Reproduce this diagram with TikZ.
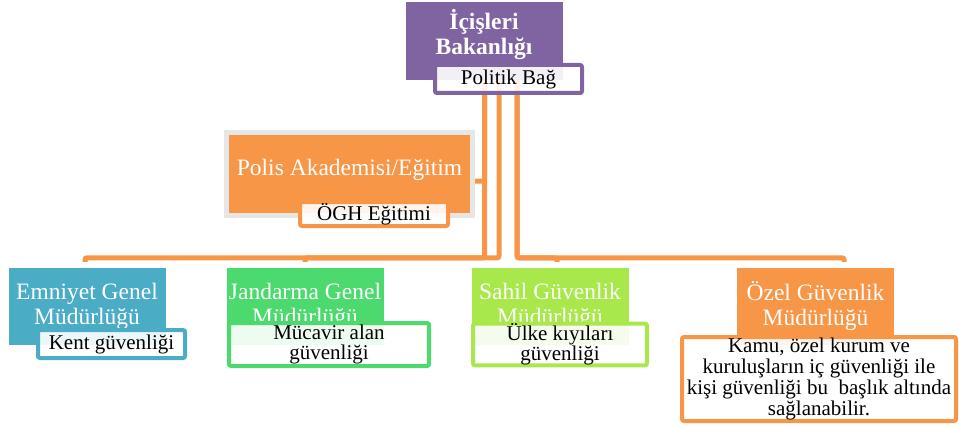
\documentclass[tikz,border=0pt]{standalone}
\usepackage{fontspec}
\setmainfont{Liberation Serif}
\usetikzlibrary{backgrounds,calc}
\definecolor{purp}{HTML}{8064A2}
\definecolor{orng}{HTML}{F79646}
\definecolor{blu}{HTML}{4BACC6}
\definecolor{grn}{HTML}{4CD96E}
\definecolor{lgrn}{HTML}{A9E84B}
\definecolor{gry}{HTML}{E6E6E6}
\begin{document}
\begin{tikzpicture}[x=1pt,y=-1pt,
  mainbox/.style={fill=#1, text=white, inner sep=0pt, minimum width=157pt, minimum height=77pt, align=center, font=\fontsize{23.5pt}{25pt}\selectfont},
  subbox/.style={draw=#1, line width=4pt, fill=white, fill opacity=0.9, text opacity=1, rounded corners=2pt, inner sep=0pt, align=center, font=\fontsize{21pt}{20pt}\selectfont},
  conn/.style={draw=orng, line width=5pt, rounded corners=2pt}
]
\useasboundingbox (0,0) rectangle (959,428);

% top
\node[mainbox=purp, minimum height=78pt] (ic) at (484.5,41) {};
\node[text=white, inner sep=0pt, align=center, font=\bfseries\fontsize{23.5pt}{25pt}\selectfont] (ict) at (484,35) {İçişleri\\Bakanlığı};
\node[subbox=purp, minimum width=147pt, minimum height=28pt] (pb) at (508.5,79) {Politik Bağ};

% assistant
\node[fill=orng, draw=gry, line width=5pt, minimum width=246pt, minimum height=83pt, text=white, inner sep=0pt, font=\fontsize{23.5pt}{25pt}\selectfont, text height=16pt, text depth=14pt] (pa) at (349.5,174) {Polis Akademisi/Eğitim};
\node[subbox=orng, minimum width=148pt, minimum height=24pt] (ogh) at (374,214) {ÖGH Eğitimi};

% children
\node[mainbox=blu] (egm) at (87,306.5) {Emniyet Genel\\Müdürlüğü};
\node[subbox=blu, minimum width=147pt, minimum height=28pt] (kent) at (111.5,344) {Kent güvenliği};

\node[mainbox=grn] (jgm) at (305,306.5) {Jandarma Genel\\Müdürlüğü};
\node[subbox=grn, minimum width=200pt, minimum height=43pt] (muc) at (329,344.5) {Mücavir alan\\güvenliği};

\node[mainbox=lgrn] (sgm) at (550,306.5) {Sahil Güvenlik\\Müdürlüğü};
\node[subbox=lgrn, minimum width=174pt, minimum height=41pt] (ulke) at (560,344.5) {Ülke kıyıları\\güvenliği};

\node[mainbox=orng] (ogm) at (815.5,306.5) {Özel Güvenlik\\Müdürlüğü};
\node[subbox=orng, minimum width=274pt, minimum height=84pt, font=\fontsize{21pt}{20.7pt}\selectfont] (kamu) at (819,379) {Kamu, özel kurum ve\\kuruluşların iç güvenliği ile\\kişi güvenliği bu~ başlık altında\\sağlanabilir.};

\begin{pgfonlayer}{background}
\draw[conn] (ic.south) |- ($(pa.east)+(0,7)$);
\draw[conn] (ic.south) |- ($(egm.north)+(-2,-10)$) -- ($(egm.north)+(-2,-6)$);
\draw[conn] ($(ic.south)+(14.5,0)$) |- ($(jgm.north)+(0,-10)$) -- ($(jgm.north)+(0,-6)$);
\draw[conn] ($(ic.south)+(32.5,0)$) |- ($(sgm.north)+(7,-10)$) -- ($(sgm.north)+(7,-6)$);
\draw[conn] ($(ic.south)+(32.5,0)$) |- ($(ogm.north)+(28.5,-10)$) -- ($(ogm.north)+(28.5,-6)$);
\end{pgfonlayer}
\end{tikzpicture}
\end{document}
